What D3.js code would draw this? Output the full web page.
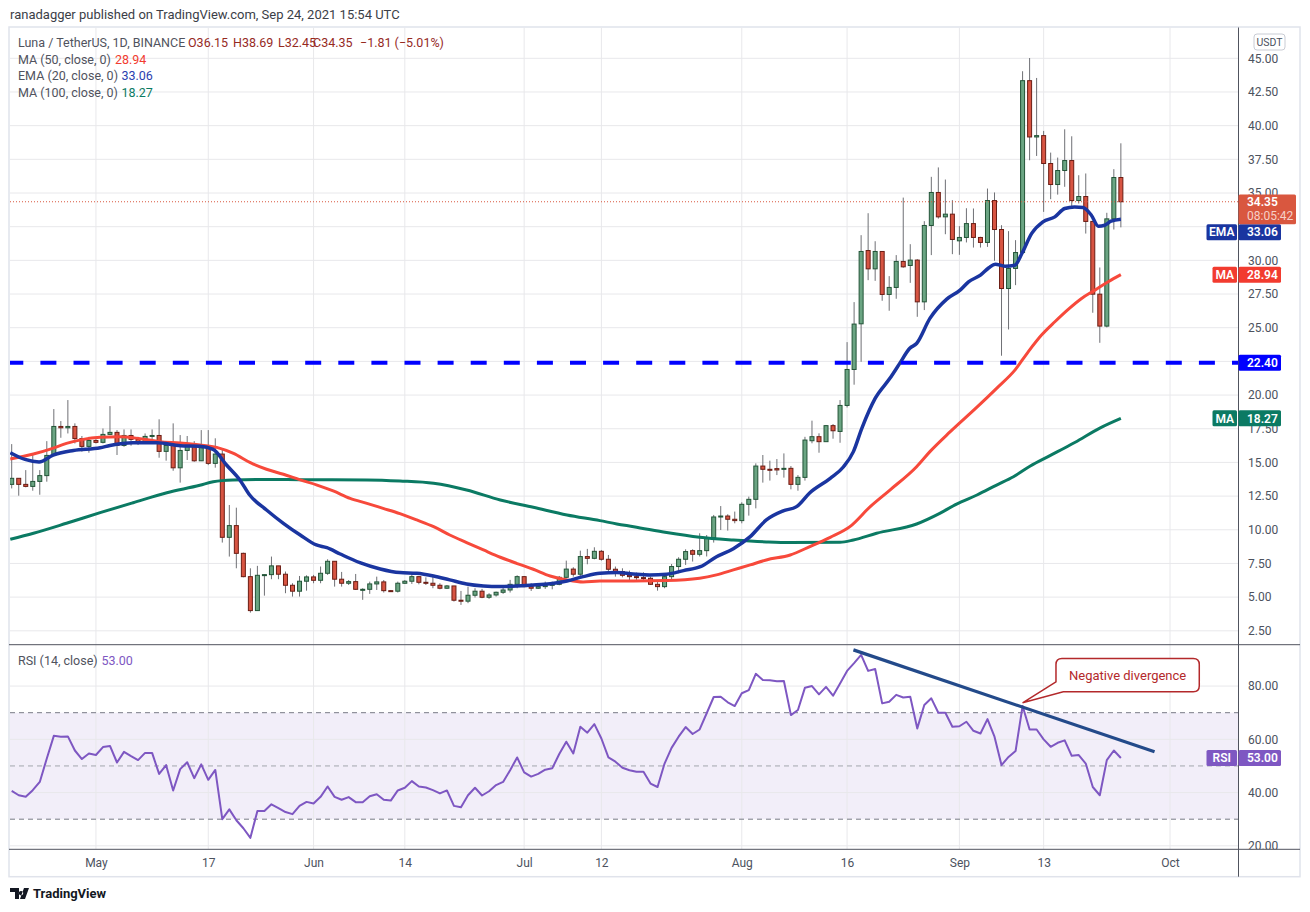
<!DOCTYPE html>
<html>
<head>
<meta charset="utf-8">
<script src="https://cdn.jsdelivr.net/npm/d3@7"></script>
<style>
  body { margin: 0; background: #fff; }
  svg { font-family: Roboto, "Open Sans", sans-serif; }
</style>
</head>
<body>
<svg id="chart" width="1310" height="912"></svg>
<script>
// ---- data (Apr 19 - Sep 24 2021) ----
var opens = [13.37,13.82,13.37,13.22,13.59,14.02,15.52,17.67,17.57,17.67,16.77,16.19,16.63,16.49,17.08,17.23,16.26,17.00,16.71,16.49,
  16.93,17.00,15.82,16.26,14.60,15.89,16.34,15.12,16.09,14.93,15.62,9.44,10.31,8.25,6.52,4.00,6.62,6.67,7.32,6.70,
  5.88,5.44,6.18,6.50,6.25,6.77,7.66,6.33,6.03,6.15,5.55,5.58,5.98,6.13,5.48,5.44,6.03,6.18,6.52,6.10,
  6.03,5.88,5.66,5.83,4.77,4.70,5.14,5.44,4.99,5.16,5.36,5.53,5.95,6.52,5.78,5.66,5.78,5.90,5.95,6.47,
  7.08,6.70,8.01,7.88,8.40,7.81,7.07,6.90,6.62,6.52,6.45,6.40,5.95,5.78,6.52,7.27,7.81,8.45,8.18,8.45,
  9.42,10.95,11.02,10.78,10.68,11.89,12.26,14.73,14.49,14.54,14.49,14.56,13.37,13.89,16.61,16.91,16.54,17.73,17.30,19.23,
  21.90,25.29,30.73,29.37,30.66,27.47,27.99,29.92,29.62,30.02,26.92,32.59,35.04,33.23,33.43,31.45,31.70,32.73,31.70,31.33,
  34.44,32.29,27.91,29.40,30.58,43.34,39.16,39.26,37.19,35.63,36.67,37.41,34.44,34.74,32.89,27.49,25.12,33.08,36.15];
var highs = [16.36,13.82,14.43,15.55,14.43,16.58,18.96,18.07,19.63,17.90,16.96,16.90,16.73,17.52,19.18,17.40,17.45,17.45,16.90,17.15,
  17.45,18.20,16.41,17.90,17.03,16.96,16.58,17.40,17.40,16.79,15.92,11.84,11.64,8.30,7.14,7.32,6.67,8.01,7.32,6.90,
  6.03,6.57,6.62,6.65,7.27,7.81,7.66,6.87,6.27,6.72,5.66,6.15,6.52,6.27,5.53,6.15,6.27,6.82,6.57,6.47,
  6.52,6.03,5.90,5.83,5.46,5.78,5.66,5.61,5.29,5.41,5.73,6.28,6.62,6.57,6.03,5.90,6.15,6.15,6.57,7.71,
  7.22,8.45,8.58,8.70,8.50,8.13,7.27,7.14,6.97,6.82,6.84,6.52,6.15,6.77,7.46,7.96,8.55,8.55,9.74,9.61,
  11.10,11.76,11.15,11.35,12.04,12.46,14.93,15.55,15.13,15.25,15.67,14.73,14.06,16.90,18.10,17.16,17.78,17.85,19.63,23.93,
  26.90,31.87,33.50,31.42,30.66,28.83,30.39,34.66,31.20,30.09,32.91,36.20,36.90,36.00,34.47,32.54,33.87,33.85,31.75,35.33,
  35.04,32.61,32.17,31.50,44.04,45.02,43.54,39.61,38.00,37.63,39.73,39.21,36.32,36.45,32.89,29.47,33.53,36.77,38.69];
var lows = [13.07,12.53,13.15,12.90,12.60,13.57,15.50,16.83,17.15,16.41,15.80,15.72,16.41,16.41,17.03,15.55,16.16,16.24,16.29,16.41,
  16.53,15.35,15.13,14.38,13.50,15.18,15.05,15.10,14.80,14.61,9.05,8.01,7.14,6.47,3.85,4.00,5.11,6.33,6.33,5.29,
  5.04,5.04,5.48,6.03,6.03,6.65,5.78,5.78,5.90,5.53,4.80,5.24,5.53,5.34,5.40,5.34,5.98,5.98,5.95,5.90,
  5.66,5.58,5.61,4.67,4.42,4.55,4.97,4.92,4.87,5.04,5.24,5.34,5.66,5.73,5.46,5.61,5.61,5.58,5.88,6.40,
  6.52,6.57,7.44,7.81,7.71,6.90,6.52,6.47,6.20,6.28,6.20,5.90,5.48,5.66,6.28,6.77,7.39,7.64,8.02,8.02,
  9.05,9.98,9.94,10.48,10.48,11.05,11.59,13.50,13.65,14.06,13.87,13.00,12.90,13.65,16.42,15.72,16.54,16.76,16.46,19.08,
  20.77,22.47,28.53,28.48,27.00,26.26,27.15,29.45,28.33,25.81,26.31,30.39,33.10,31.94,30.46,30.41,31.33,30.95,30.95,31.00,
  29.97,22.92,24.87,28.16,30.51,37.43,37.75,33.60,34.54,34.88,35.46,34.02,34.22,31.99,26.11,23.88,25.02,32.29,32.45];
var closes = [13.82,13.37,13.22,13.59,14.02,15.52,17.67,17.57,17.67,16.77,16.19,16.63,16.49,17.08,17.23,16.26,17.00,16.71,16.49,16.93,
  17.00,15.82,16.26,14.60,15.89,16.34,15.12,16.09,14.93,15.62,9.44,10.31,8.25,6.52,4.00,6.62,6.67,7.32,6.70,5.88,
  5.44,6.18,6.50,6.25,6.77,7.66,6.33,6.03,6.15,5.58,5.58,5.98,6.13,5.48,5.44,6.03,6.18,6.52,6.10,6.03,
  5.88,5.66,5.83,4.77,4.70,5.14,5.44,4.99,5.16,5.36,5.53,5.95,6.52,5.78,5.66,5.78,5.90,5.95,6.47,7.08,
  6.70,8.01,7.88,8.40,7.81,7.07,6.90,6.62,6.52,6.45,6.40,5.95,5.78,6.52,7.27,7.81,8.38,8.18,8.45,9.42,
  10.95,11.02,10.78,10.68,11.89,12.26,14.73,14.49,14.44,14.44,14.56,13.37,13.89,16.66,16.91,16.54,17.73,17.35,19.23,21.90,
  25.27,30.66,29.37,30.66,27.47,27.99,29.92,29.52,30.02,26.92,32.59,35.04,33.23,33.43,31.55,31.70,32.73,31.70,31.33,34.44,
  32.29,27.91,29.40,30.58,43.34,39.16,39.26,37.19,35.63,36.67,37.41,34.44,34.74,32.89,27.49,25.12,33.08,36.15,34.35];

var rsi14 = [40.6,39.0,38.4,40.9,44.0,52.8,61.3,61.0,61.1,55.8,52.6,54.7,54.1,57.1,57.5,51.3,55.3,53.7,52.2,54.9,
  54.9,47.0,50.3,40.8,48.8,51.4,45.4,50.6,44.8,48.5,30.0,33.7,29.6,26.6,23.0,33.1,33.1,35.6,34.2,32.7,
  31.9,35.0,36.5,35.9,38.4,42.3,38.4,37.3,38.3,36.4,36.4,38.6,39.4,37.3,37.0,40.8,41.8,44.3,42.3,41.9,
  40.9,39.7,40.8,35.0,34.5,39.0,41.8,38.9,40.5,42.8,44.0,48.4,53.2,47.6,46.0,47.0,48.6,49.1,54.5,59.1,
  54.7,64.7,62.5,65.7,60.3,53.2,51.6,49.3,48.4,47.8,47.8,43.4,42.1,50.9,56.8,61.0,64.6,62.0,63.7,69.8,
  75.9,76.0,73.9,72.5,77.3,78.5,84.6,82.3,82.2,81.8,81.9,69.1,71.0,79.4,80.0,76.9,79.7,76.4,81.0,85.7,
  88.6,91.7,85.7,86.4,73.5,74.1,76.7,75.7,76.0,64.1,72.9,75.4,70.0,70.0,64.7,64.9,66.6,63.2,62.2,67.6,
  61.0,50.3,53.4,55.6,72.5,63.7,63.7,60.0,57.2,58.7,59.6,53.8,54.1,50.9,42.1,39.0,52.2,55.8,53.0];

// moving averages, sampled as [day number, value] (day 1 = Apr 19)
var ema20 = [[0.8,15.72],[2.9,15.22],[4.9,15.03],[6.9,15.55],[9.8,15.89],[13.6,16.09],[15,16.26],[18.3,16.46],[21.7,16.46],
  [25,16.24],[27.8,16.2],[29.7,15.97],[31.6,14.81],[33.5,13.7],[34.9,12.58],[37.3,11.47],[39.7,10.48],[42.1,9.61],
  [44.4,8.87],[45.9,8.67],[47.8,8.2],[50.6,7.56],[53.5,7.09],[56.3,6.82],[58.7,6.77],[61.1,6.57],[63.4,6.28],[65.8,5.98],
  [68.2,5.83],[70.6,5.78],[72.9,5.83],[75.3,5.9],[77.7,6.0],[80.1,6.2],[82.4,6.52],[84.8,6.77],[87.2,6.82],[89.5,6.72],
  [91.9,6.65],[94.3,6.7],[96.7,6.97],[99.1,7.26],[101.4,8.0],[103.8,8.6],[106.2,9.49],[108.5,10.73],[110.9,11.4],
  [112.8,11.72],[114.7,12.75],[117.6,13.82],[119.5,14.68],[120.9,15.8],[122.1,17.53],[124,19.75],[126.1,21.24],
  [127.5,22.35],[128.9,23.46],[129.9,23.83],[131.8,25.69],[134.2,27.12],[136.1,27.79],[137.3,28.41],[139,28.9],
  [140.2,29.45],[141.1,29.72],[142.5,29.57],[143.9,29.64],[144.9,30.51],[146.3,32.0],[147.9,32.86],[149.6,33.23],
  [151,33.85],[152.4,33.97],[153.6,33.92],[154.8,33.35],[155.8,32.54],[156.7,32.61],[157.6,32.91],[159,33.06]];
var ma50 = [[0.8,15.25],[4.1,15.62],[6.5,15.99],[8.8,16.41],[11.2,16.71],[13.6,16.86],[16.4,16.91],[19.3,16.76],
  [22.1,16.54],[25,16.44],[27.8,16.3],[30.2,16.12],[32.6,15.67],[35,14.98],[37.3,14.49],[39.7,14.12],[42.1,13.7],
  [44.5,13.32],[46.8,12.88],[49.2,12.33],[51.6,11.96],[53.9,11.59],[56.3,11.2],[58.7,10.73],[61.1,10.23],[63.4,9.61],
  [65.8,9.05],[68.2,8.5],[70.6,7.96],[72.9,7.51],[75.3,7.07],[77.7,6.57],[80.1,6.28],[82.4,6.13],[84.8,6.2],
  [89.6,6.2],[94.3,6.23],[99,6.4],[101.4,6.65],[103.8,7.02],[106.2,7.39],[108.5,7.76],[111.9,8.13],[114.7,8.75],
  [117.6,9.44],[120.4,10.23],[123.3,11.72],[126.1,12.95],[129.9,14.68],[131.8,15.8],[134.7,17.28],[138.5,19.1],
  [141.3,20.5],[143.9,21.85],[145.8,23.21],[147.7,24.45],[149.6,25.44],[151.5,26.36],[153.4,27.17],[155.3,27.79],
  [157.2,28.41],[159,28.94]];
var ma100 = [[0.8,9.29],[4.1,9.74],[8.8,10.48],[13.6,11.27],[18.3,12.01],[23.1,12.75],[27.8,13.3],[29.7,13.57],
  [32.5,13.7],[37.3,13.74],[42.1,13.72],[51.6,13.7],[56.3,13.62],[61.1,13.45],[65.8,12.95],[70.6,12.21],[75.3,11.67],
  [80.1,11.1],[84.8,10.68],[87.2,10.43],[89.6,10.23],[94.3,9.79],[99,9.44],[103.8,9.24],[108.5,9.1],[111.9,9.05],
  [119,9.07],[120.9,9.24],[124.2,9.74],[129.9,10.43],[133.2,11.22],[135.6,11.91],[138.5,12.58],[141.3,13.32],
  [143.7,13.94],[146.1,14.73],[148.9,15.5],[152.5,16.5],[156,17.55],[159,18.27]];

var dateTicks = [13, 29, 44, 57, 74, 85, 105, 120, 136, 148, 166];
var dateLabels = ["May", "17", "Jun", "14", "Jul", "12", "Aug", "16", "Sep", "13", "Oct"];
var priceTicks = [2.5, 5, 7.5, 10, 12.5, 15, 17.5, 20, 22.5, 25, 27.5, 30, 32.5, 35, 37.5, 40, 42.5, 45];
var rsiTicks = [20, 40, 60, 80];
var rsiLevels = [70, 50, 30];
var supportLevel = 22.40;
var rsiTrend = [[120.9, 93.6], [163.8, 55.3]];
var lastRsi = 53.00;

// ---- layout ----
var paneL = 10, axisX = 1238.5, frameR = 1300;
var mainTop = 27.5, mainBot = 644.7, rsiBot = 849.3, timeBot = 876.7;
var gridColor = "#e8e8eb", axisText = "#4c525e";
var upFill = "#6ba583", upLine = "#225437", dnFill = "#d75442", dnLine = "#6b1d14";
var emaColor = "#1a35a0", ma50Color = "#f7493b", ma100Color = "#0b7a63", rsiColor = "#7e57c2";

var svg = d3.select("#chart");
var x = d3.scaleLinear().domain([1, 166]).range([11.7, 1170]);
var y = d3.scaleLinear().domain([2.5, 45]).range([630.8, 58.3]);
var yR = d3.scaleLinear().domain([30, 70]).range([819.2, 712.7]);

var defs = svg.append("defs");
function clip(id, x0, y0, x1, y1) {
  defs.append("clipPath").attr("id", id).append("rect")
    .attr("x", x0).attr("y", y0).attr("width", x1 - x0).attr("height", y1 - y0);
}
clip("cMain", paneL, mainTop, axisX, mainBot);
clip("cRsi", paneL, mainBot, axisX, rsiBot);
clip("cMainAx", axisX, mainTop, frameR, mainBot);
clip("cRsiAx", axisX, mainBot, frameR, rsiBot);

// header
svg.append("text").attr("x", 10).attr("y", 19).attr("font-size", 13).attr("fill", "#3b3e47")
  .text("ranadagger published on TradingView.com, Sep 24, 2021 15:54 UTC");

// frame
svg.append("rect").attr("x", 9).attr("y", mainTop - 0.5).attr("width", frameR - 9).attr("height", timeBot - mainTop + 0.5)
  .attr("fill", "#fff").attr("stroke", "#e0e3eb").attr("stroke-width", 1.5);

var gMain = svg.append("g").attr("clip-path", "url(#cMain)");
var gRsi = svg.append("g").attr("clip-path", "url(#cRsi)");

// RSI band
gRsi.append("rect").attr("x", paneL).attr("y", yR(70)).attr("width", axisX - paneL)
  .attr("height", yR(30) - yR(70)).attr("fill", "#f2eef9");

// grid lines
gMain.selectAll("line.hg").data(priceTicks).join("line").attr("class", "hg")
  .attr("x1", paneL).attr("x2", axisX).attr("y1", d => y(d)).attr("y2", d => y(d))
  .attr("stroke", gridColor);
gMain.selectAll("line.vg").data(dateTicks).join("line").attr("class", "vg")
  .attr("x1", d => x(d)).attr("x2", d => x(d)).attr("y1", mainTop).attr("y2", mainBot)
  .attr("stroke", gridColor);
gRsi.selectAll("line.hg").data(rsiTicks).join("line").attr("class", "hg")
  .attr("x1", paneL).attr("x2", axisX).attr("y1", d => yR(d)).attr("y2", d => yR(d))
  .attr("stroke", gridColor);
gRsi.selectAll("line.vg").data(dateTicks).join("line").attr("class", "vg")
  .attr("x1", d => x(d)).attr("x2", d => x(d)).attr("y1", mainBot).attr("y2", rsiBot)
  .attr("stroke", gridColor);
gRsi.selectAll("line.lvl").data(rsiLevels).join("line").attr("class", "lvl")
  .attr("x1", paneL).attr("x2", axisX).attr("y1", d => yR(d)).attr("y2", d => yR(d))
  .attr("stroke", d => d == 50 ? "#a3a6ae" : "#787b86").attr("stroke-dasharray", "5,4");

// candles
var candles = closes.map(function(c, i) {
  return {day: i + 1, o: opens[i], h: highs[i], l: lows[i], c: c};
});
var cg = gMain.selectAll("g.candle").data(candles).join("g").attr("class", "candle");
cg.append("line")
  .attr("x1", d => x(d.day)).attr("x2", d => x(d.day))
  .attr("y1", d => y(d.h)).attr("y2", d => y(d.l))
  .attr("stroke", "#6f7075").attr("stroke-width", 1);
cg.append("rect")
  .attr("x", d => x(d.day) - 2).attr("width", 4)
  .attr("y", d => y(Math.max(d.o, d.c)))
  .attr("height", d => Math.max(1, Math.abs(y(d.o) - y(d.c))))
  .attr("fill", d => d.c >= d.o ? upFill : dnFill)
  .attr("stroke", d => d.c >= d.o ? upLine : dnLine).attr("stroke-width", 1);

// moving averages
var maLine = d3.line().x(d => x(d[0])).y(d => y(d[1])).curve(d3.curveMonotoneX);
gMain.append("path").datum(ma100).attr("d", maLine).attr("fill", "none").attr("stroke", ma100Color).attr("stroke-width", 3);
gMain.append("path").datum(ma50).attr("d", maLine).attr("fill", "none").attr("stroke", ma50Color).attr("stroke-width", 3);
gMain.append("path").datum(ema20).attr("d", maLine).attr("fill", "none").attr("stroke", emaColor).attr("stroke-width", 3.5);

// support level and last price
gMain.append("line").attr("x1", paneL).attr("x2", axisX)
  .attr("y1", y(supportLevel)).attr("y2", y(supportLevel))
  .attr("stroke", "#0000ff").attr("stroke-width", 4)
  .attr("stroke-dasharray", "16,17.1").attr("stroke-dashoffset", 2.7);
var lastClose = closes[closes.length - 1];
gMain.append("line").attr("x1", paneL).attr("x2", axisX)
  .attr("y1", y(lastClose)).attr("y2", y(lastClose))
  .attr("stroke", "#d9573f").attr("stroke-dasharray", "1,2");

// RSI line + trend line
var rsiLine = d3.line().x((d, i) => x(i + 1)).y(d => yR(d));
gRsi.append("path").datum(rsi14).attr("d", rsiLine).attr("fill", "none")
  .attr("stroke", rsiColor).attr("stroke-width", 2).attr("stroke-linejoin", "round");
gRsi.append("path").datum(rsiTrend).attr("d", d3.line().x(d => x(d[0])).y(d => yR(d[1])))
  .attr("stroke", "#234a8a").attr("stroke-width", 3.2);

// callout
var tipX = x(145), tipY = yR(73.7);
var bx0 = tipX + 33.4, bx1 = tipX + 176.7, by0 = tipY - 44.4, by1 = tipY - 11, r = 6;
var call = svg.append("g");
call.append("path")
  .attr("d", "M" + (bx0 + r) + "," + by0 + "H" + (bx1 - r) + "Q" + bx1 + "," + by0 + " " + bx1 + "," + (by0 + r) +
    "V" + (by1 - r) + "Q" + bx1 + "," + by1 + " " + (bx1 - r) + "," + by1 + "H" + (bx0 + 7.3) +
    "L" + tipX + "," + tipY + "L" + bx0 + "," + (by1 - 10) + "V" + (by0 + r) +
    "Q" + bx0 + "," + by0 + " " + (bx0 + r) + "," + by0 + "Z")
  .attr("fill", "#fff").attr("stroke", "#b3292b").attr("stroke-width", 1.5);
call.append("text").attr("x", (bx0 + bx1) / 2).attr("y", (by0 + by1) / 2)
  .attr("dy", "0.35em").attr("text-anchor", "middle").attr("font-size", 13).attr("fill", "#b3292b")
  .text("Negative divergence");

// separators
svg.append("line").attr("x1", 9).attr("x2", frameR).attr("y1", mainBot).attr("y2", mainBot).attr("stroke", "#50535e");
svg.append("line").attr("x1", 9).attr("x2", frameR).attr("y1", rsiBot).attr("y2", rsiBot).attr("stroke", "#50535e");
svg.append("line").attr("x1", axisX).attr("x2", axisX).attr("y1", mainTop).attr("y2", timeBot).attr("stroke", "#50535e");

// value badges sit on the price scale; labels they fully cover are not drawn
var lastClose2 = lastClose;
var lastEma = ema20[ema20.length - 1][1], lastMa50 = ma50[ma50.length - 1][1], lastMa100 = ma100[ma100.length - 1][1];
var pY = y(lastClose);
var emaY = Math.max(y(lastEma), pY + 22.5 + 8);
var badgeYs = [y(lastMa100), y(supportLevel), y(lastMa50), emaY];
var shownTicks = priceTicks.filter(t => badgeYs.every(b => Math.abs(y(t) - b) > 8));

// price axis
var pAx = svg.append("g").attr("clip-path", "url(#cMainAx)")
  .append("g").attr("transform", "translate(1248,0)")
  .call(d3.axisRight(y).tickValues(shownTicks).tickSize(0).tickPadding(0).tickFormat(d3.format(".2f")));
pAx.select(".domain").remove();
pAx.attr("font-family", null).attr("font-size", 12).selectAll("text").attr("fill", axisText);

var rAx = svg.append("g").attr("clip-path", "url(#cRsiAx)")
  .append("g").attr("transform", "translate(1248,0)")
  .call(d3.axisRight(yR).tickValues(rsiTicks).tickSize(0).tickPadding(0).tickFormat(d3.format(".2f")));
rAx.select(".domain").remove();
rAx.attr("font-family", null).attr("font-size", 12).selectAll("text").attr("fill", axisText);

// time axis
var tAx = svg.append("g").attr("transform", "translate(0," + rsiBot + ")")
  .call(d3.axisBottom(x).tickValues(dateTicks).tickSize(0).tickPadding(9)
    .tickFormat((d, i) => dateLabels[i]));
tAx.select(".domain").remove();
tAx.attr("font-family", null).attr("font-size", 12).selectAll("text").attr("fill", axisText);

// USDT tag
svg.append("rect").attr("x", 1254).attr("y", 34).attr("width", 31).attr("height", 16).attr("rx", 3)
  .attr("fill", "#fff").attr("stroke", "#c9ccd4");
svg.append("text").attr("x", 1269.5).attr("y", 42).attr("dy", "0.35em").attr("text-anchor", "middle")
  .attr("font-size", 10.5).attr("fill", "#4c525e").text("USDT");

function badge(label, value, cy, color) {
  var g = svg.append("g");
  if (label) {
    var lw = label.length > 2 ? 30.5 : 24.5;
    g.append("rect").attr("x", axisX - 1.5 - lw).attr("y", cy - 8).attr("width", lw).attr("height", 16)
      .attr("rx", 1.5).attr("fill", color);
    g.append("text").attr("x", axisX - 1.5 - lw / 2).attr("y", cy).attr("dy", "0.35em")
      .attr("text-anchor", "middle").attr("font-size", 12).attr("font-weight", 600).attr("fill", "#fff").text(label);
  }
  g.append("rect").attr("x", axisX).attr("y", cy - 8).attr("width", 42.5).attr("height", 16)
    .attr("rx", 1.5).attr("fill", color);
  g.append("text").attr("x", 1247).attr("y", cy).attr("dy", "0.35em")
    .attr("font-size", 12).attr("font-weight", 600).attr("fill", "#fff").text(d3.format(".2f")(value));
}
badge("MA", lastMa100, y(lastMa100), ma100Color);
badge(null, supportLevel, y(supportLevel), "#0000ff");
badge("MA", lastMa50, y(lastMa50), "#f23b2f");
badge("EMA", lastEma, emaY, emaColor);
badge("RSI", lastRsi, yR(lastRsi), rsiColor);
// last price badge with countdown
svg.append("rect").attr("x", axisX).attr("y", pY - 7.3).attr("width", 57.5).attr("height", 29.7)
  .attr("rx", 1.5).attr("fill", "#d9573f");
svg.append("text").attr("x", 1247).attr("y", pY).attr("dy", "0.35em").attr("font-size", 12)
  .attr("font-weight", 600).attr("fill", "#fff").text(d3.format(".2f")(lastClose2));
svg.append("text").attr("x", 1247).attr("y", pY + 14.5).attr("dy", "0.35em").attr("font-size", 12)
  .attr("fill", "#f6d0c8").text("08:05:42");

// legends
var leg = svg.append("g").attr("font-size", 12.5);
function legText(xp, yp, txt, col) {
  leg.append("text").attr("x", xp).attr("y", yp).attr("dy", "0.35em").attr("fill", col).text(txt);
}
var labCol = "#50535e", ohlcCol = "#962a1f";
legText(18, 42.7, "Luna / TetherUS, 1D, BINANCE", labCol);
legText(188, 42.7, "O" + d3.format(".2f")(opens[158]), ohlcCol);
legText(233, 42.7, "H" + d3.format(".2f")(highs[158]), ohlcCol);
legText(278, 42.7, "L" + d3.format(".2f")(lows[158]), ohlcCol);
legText(313, 42.7, "C" + d3.format(".2f")(lastClose), ohlcCol);
legText(360, 42.7, "\u22121.81 (\u22125.01%)", ohlcCol);
legText(18, 59.3, "MA (50, close, 0)", labCol);
legText(115, 59.3, d3.format(".2f")(lastMa50), "#f23b2f");
legText(18, 76, "EMA (20, close, 0)", labCol);
legText(121.5, 76, d3.format(".2f")(lastEma), "#2a3fb0");
legText(18, 92.3, "MA (100, close, 0)", labCol);
legText(121.5, 92.3, d3.format(".2f")(lastMa100), ma100Color);
legText(18, 660.5, "RSI (14, close)", labCol);
legText(101.5, 660.5, d3.format(".2f")(lastRsi), rsiColor);

// TradingView mark
var logo = svg.append("g").attr("transform", "translate(10,886)");
logo.append("path").attr("d", "M0,2H9V13H5V6H0Z M10,13L14,2H19L15,13Z M11,5a2.2,2.2 0 1,0 0.01,0")
  .attr("fill", "#131722");
svg.append("text").attr("x", 33).attr("y", 893).attr("dy", "0.35em").attr("font-size", 13)
  .attr("font-weight", 700).attr("fill", "#131722").text("TradingView");
</script>
</body>
</html>
